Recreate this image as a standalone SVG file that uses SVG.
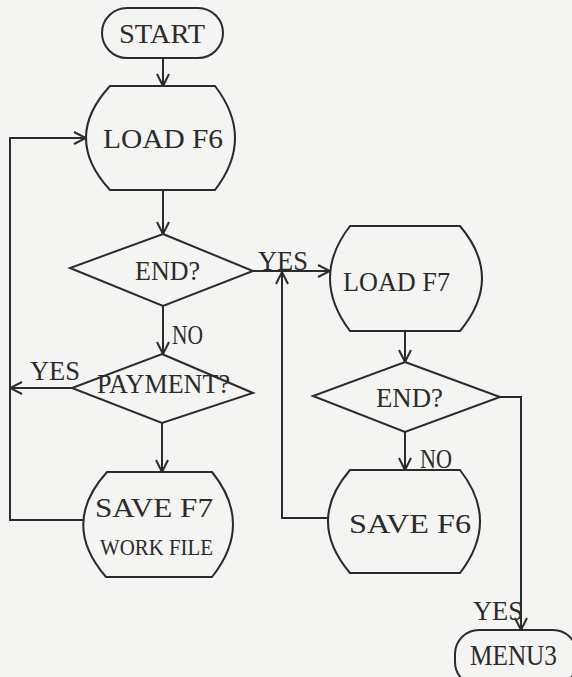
<svg xmlns="http://www.w3.org/2000/svg" width="572" height="677" viewBox="0 0 572 677">
<defs>
<style>
.shape{fill:none;stroke:#2b2b2b;stroke-width:2}
.conn{fill:none;stroke:#2b2b2b;stroke-width:2}
.t{font-family:"Liberation Serif","DejaVu Serif",serif;fill:#2b2b2b;font-size:28px}
</style>
<marker id="arr" viewBox="0 0 14 14" refX="13" refY="7" markerWidth="14" markerHeight="14" markerUnits="userSpaceOnUse" orient="auto">
<path d="M1,1 L13,7 L1,13" fill="none" stroke="#2b2b2b" stroke-width="2"/>
</marker>
</defs>
<rect x="0" y="0" width="572" height="677" fill="#f4f4f2"/>

<g id="connectors">
<path class="conn" d="M163,58 L163,86" marker-end="url(#arr)"/>
<path class="conn" d="M163,190 L163,234" marker-end="url(#arr)"/>
<path class="conn" d="M163,306 L163,354" marker-end="url(#arr)"/>
<path class="conn" d="M162,423 L162,472" marker-end="url(#arr)"/>
<path class="conn" d="M72,388 L10,388" marker-end="url(#arr)"/>
<path class="conn" d="M83,520 L10,520 L10,138 L86,138" marker-end="url(#arr)"/>
<path class="conn" d="M253,271 L330,271" marker-end="url(#arr)"/>
<path class="conn" d="M328,518 L282,518 L282,272" marker-end="url(#arr)"/>
<path class="conn" d="M405,331 L405,362" marker-end="url(#arr)"/>
<path class="conn" d="M405,432 L405,470" marker-end="url(#arr)"/>
<path class="conn" d="M500,397 L521,397 L521,630" marker-end="url(#arr)"/>
<text class="t" x="258" y="270" textLength="50" lengthAdjust="spacingAndGlyphs">YES</text>
<text class="t" x="172" y="344" textLength="31" lengthAdjust="spacingAndGlyphs">NO</text>
<text class="t" x="30" y="380" textLength="50" lengthAdjust="spacingAndGlyphs">YES</text>
<text class="t" x="420" y="468" textLength="32" lengthAdjust="spacingAndGlyphs">NO</text>
<text class="t" x="473" y="620" textLength="50" lengthAdjust="spacingAndGlyphs">YES</text>
</g>

<g id="start">
<rect class="shape" x="102" y="8" width="121" height="50" rx="25"/>
<text class="t" x="162" y="43" text-anchor="middle" textLength="86" lengthAdjust="spacingAndGlyphs">START</text>
</g>

<g id="load-f6">
<path class="shape" d="M110,86 L215,86 Q255,138 215,190 L110,190 Q62,138 110,86 Z"/>
<text class="t" x="103" y="148" textLength="120" lengthAdjust="spacingAndGlyphs">LOAD F6</text>
</g>

<g id="end1">
<path class="shape" d="M163,234 L253,271 L163,306 L70,268 Z"/>
<text class="t" x="135" y="280" textLength="65" lengthAdjust="spacingAndGlyphs">END?</text>
</g>

<g id="payment">
<path class="shape" d="M162,354 L253,393 L162,423 L72,388 Z"/>
<text class="t" x="97" y="393" textLength="133" lengthAdjust="spacingAndGlyphs">PAYMENT?</text>
</g>

<g id="save-f7">
<path class="shape" d="M107,472 L212,472 Q254,524 212,577 L106,577 Q60,524 107,472 Z"/>
<text class="t" x="95" y="517" textLength="118" lengthAdjust="spacingAndGlyphs">SAVE F7</text>
<text class="t" x="100" y="555" style="font-size:24px" textLength="113" lengthAdjust="spacingAndGlyphs">WORK FILE</text>
</g>

<g id="load-f7">
<path class="shape" d="M350,226 L460,226 Q504,278 460,331 L350,331 Q310,278 350,226 Z"/>
<text class="t" x="343" y="291" textLength="107" lengthAdjust="spacingAndGlyphs">LOAD F7</text>
</g>

<g id="end2">
<path class="shape" d="M405,362 L500,397 L405,432 L313,396 Z"/>
<text class="t" x="376" y="407" textLength="67" lengthAdjust="spacingAndGlyphs">END?</text>
</g>

<g id="save-f6">
<path class="shape" d="M350,470 L460,470 Q500,521 460,573 L350,573 Q306,521 350,470 Z"/>
<text class="t" x="349" y="533" textLength="122" lengthAdjust="spacingAndGlyphs">SAVE F6</text>
</g>

<g id="menu3">
<rect class="shape" x="455" y="630" width="122" height="56" rx="24"/>
<text class="t" x="470" y="665" style="font-size:30px" textLength="87" lengthAdjust="spacingAndGlyphs">MENU3</text>
</g>
</svg>
